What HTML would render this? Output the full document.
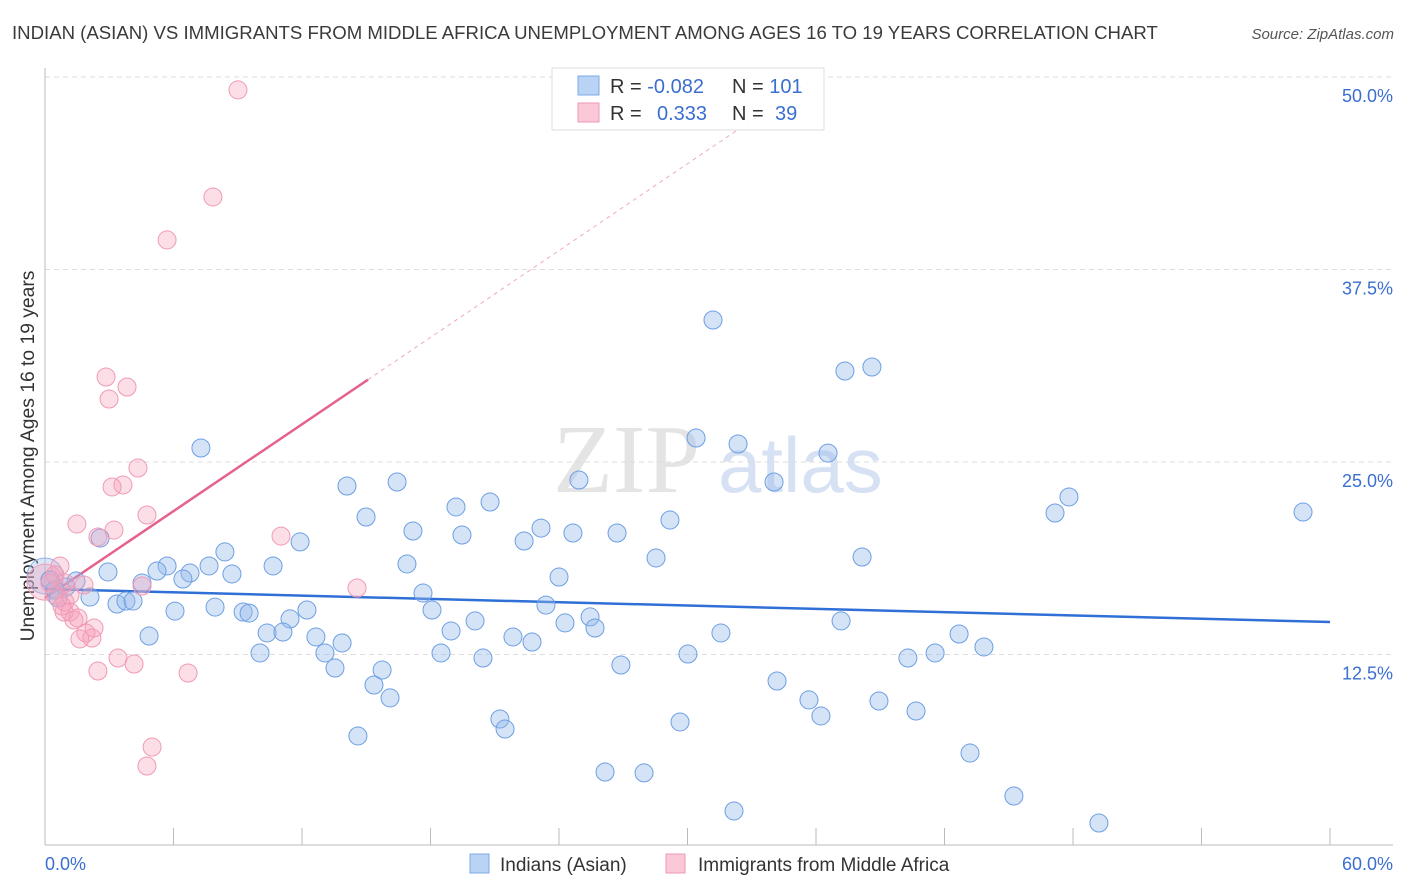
<!DOCTYPE html>
<html><head><meta charset="utf-8"><style>
body{margin:0;background:#fff;font-family:"Liberation Sans",sans-serif;}
svg{display:block}
</style></head><body>
<svg id="chart" width="1406" height="892">
<text x="12" y="39" font-size="18.6" fill="#3a3a3a">INDIAN (ASIAN) VS IMMIGRANTS FROM MIDDLE AFRICA UNEMPLOYMENT AMONG AGES 16 TO 19 YEARS CORRELATION CHART</text>
<text x="1394" y="39" font-size="15" fill="#555" font-style="italic" text-anchor="end">Source: ZipAtlas.com</text>
<text x="34" y="456" font-size="19.3" fill="#333" text-anchor="middle" transform="rotate(-90 34 456)">Unemployment Among Ages 16 to 19 years</text>
<g><text x="553" y="492" font-size="98" font-family="Liberation Serif,serif" fill="#e4e4e4">ZIP</text><text x="718" y="492" font-size="78" fill="#d6e2f4">atlas</text></g>
<g id="grid"></g><g id="ticks"></g><g id="trend"></g><g id="pts"></g>
<g>
<rect x="552" y="68" width="272" height="62" fill="#fff" fill-opacity="0.9" stroke="#ddd"/>
<rect x="578" y="76" width="21" height="19" fill="#b9d3f5" stroke="#7ea8e6"/>
<rect x="578" y="103" width="21" height="19" fill="#fac8d6" stroke="#ee9ab3"/>
<text x="610" y="93" font-size="20" fill="#333">R = <tspan fill="#3a6fd0">-0.082</tspan></text>
<text x="732" y="93" font-size="20" fill="#333">N = <tspan fill="#3a6fd0">101</tspan></text>
<text x="610" y="120" font-size="20" fill="#333">R = <tspan fill="#3a6fd0" x="657">0.333</tspan></text>
<text x="732" y="120" font-size="20" fill="#333">N = <tspan fill="#3a6fd0" x="775">39</tspan></text>
</g>
<g>
<rect x="470" y="854" width="19" height="19" fill="#b9d3f5" stroke="#7ea8e6"/>
<text x="500" y="871" font-size="19" fill="#333">Indians (Asian)</text>
<rect x="666" y="854" width="19" height="19" fill="#fac8d6" stroke="#ee9ab3"/>
<text x="698" y="871" font-size="19" fill="#333">Immigrants from Middle Africa</text>
</g>
<text x="45" y="870" font-size="18" fill="#3a6fd0">0.0%</text>
<text x="1393" y="870" font-size="18" fill="#3a6fd0" text-anchor="end">60.0%</text>
</svg>
<script>
const blueX=[31.19,37.35,38.61,7.28,30.40,32.36,36.56,34.04,24.93,14.10,16.44,20.78,19.19,14.99,17.18,19.47,22.37,23.16,24.65,26.71,29.18,47.16,47.81,58.74,2.57,11.91,38.15,28.53,8.40,16.90,10.65,7.66,24.00,8.73,6.77,5.70,5.23,6.44,4.53,2.94,1.45,0.98,0.47,2.10,3.36,3.78,4.11,17.65,18.07,23.39,25.45,25.68,24.28,20.08,18.96,12.23,11.44,7.94,9.25,9.53,6.07,10.37,11.11,12.65,13.87,13.07,10.04,4.86,13.54,15.74,15.36,16.11,18.49,20.45,21.85,22.74,26.89,30.02,31.56,37.17,42.68,43.84,41.56,40.29,34.18,35.67,36.23,38.94,40.67,21.24,21.48,29.65,14.61,43.19,26.15,27.97,32.17,45.24,49.21,0.61,0.23];
const blueY=[34.22,30.91,31.17,25.91,26.56,26.17,25.58,23.70,23.83,23.44,23.70,22.40,22.08,21.43,20.52,20.26,19.87,20.71,20.39,20.39,21.23,21.69,22.73,21.75,20.06,19.81,18.83,18.77,19.16,18.38,18.25,18.25,17.53,17.73,17.79,18.25,17.92,17.40,17.14,17.86,17.27,16.88,16.69,16.23,15.78,15.97,15.97,16.49,15.39,15.71,14.94,14.22,14.55,14.68,14.03,15.39,14.81,15.58,15.26,15.19,15.32,13.90,13.96,13.64,13.25,12.60,12.60,13.70,11.62,11.49,10.52,9.68,12.60,12.27,13.64,13.31,11.82,12.53,13.90,14.68,13.83,12.99,12.60,12.27,10.78,9.55,8.51,9.48,8.83,8.31,7.66,8.12,7.21,6.10,4.87,4.81,2.34,3.31,1.56,16.17,17.34];
const pinkX=[9.01,7.84,5.70,2.85,3.83,2.99,4.34,3.64,3.13,4.76,1.49,3.22,11.02,2.47,14.57,4.53,0.70,0.47,0.23,0.93,1.82,0.93,0.89,1.17,1.35,1.54,2.29,1.91,2.19,1.63,3.41,4.16,2.47,6.68,5.00,4.76,0.47,1.17,0.79];
const pinkY=[49.16,42.21,39.42,30.52,29.87,29.09,24.61,23.51,23.38,21.56,20.97,20.58,20.19,20.13,16.82,16.95,18.25,17.66,17.14,17.14,17.01,15.91,15.26,15.26,14.74,14.87,14.22,13.90,13.57,13.51,12.27,11.88,11.43,11.30,6.49,5.26,16.36,16.36,15.65];
const bigX=[0,0];const bigY=[17.6,17.2];
const gridVals=[12.5,25,37.5,50];
const gridLabels=["12.5%","25.0%","37.5%","50.0%"];
const xTicks=[0,6,12,18,24,30,36,42,48,54,60];
const blueTrend=[16.75,14.61];
const pinkTrend=[16.17,0.94];
const X=v=>45+v*21.417, Y=v=>847-v*15.4;
const NS="http://www.w3.org/2000/svg";
function mk(p,t,a){const e=document.createElementNS(NS,t);for(const k in a)e.setAttribute(k,a[k]);p.appendChild(e);return e;}
const grid=document.getElementById('grid');
gridVals.forEach((v,i)=>{
 const l=mk(grid,'line',{x1:45,x2:1393,y1:Y(v),y2:Y(v),stroke:'#dcdcdc','stroke-dasharray':'5,4'});
 
 
 const t=mk(grid,'text',{x:1393,y:Y(v)+25,'font-size':18,fill:'#3a6fd0','text-anchor':'end'});
 t.textContent=gridLabels[i];
 
 
});
const tk=document.getElementById('ticks');
const ya=mk(tk,'line',{x1:45,x2:45,y1:68,y2:845,stroke:'#bbb'});


const xa=mk(tk,'line',{x1:45,x2:1393,y1:845,y2:845,stroke:'#bbb'});


xTicks.forEach(v=>{const l=mk(tk,'line',{x1:X(v),x2:X(v),y1:828,y2:845,stroke:'#bbb'});
 
 });
const tr=document.getElementById('trend');
const bl=mk(tr,'line',{x1:X(0),x2:X(60),y1:Y(blueTrend[0]),y2:Y(blueTrend[1]),stroke:'#2f6fd6','stroke-width':2.5});


const pxEnd=15.08, pDash=35.9;
const pl=mk(tr,'line',{x1:X(0),x2:X(pxEnd),y1:Y(pinkTrend[0]),y2:Y(pinkTrend[0]+pinkTrend[1]*pxEnd),stroke:'#e5628c','stroke-width':2.5});


const pd=mk(tr,'line',{x1:X(pxEnd),x2:X(pDash),y1:Y(pinkTrend[0]+pinkTrend[1]*pxEnd),y2:Y(pinkTrend[0]+pinkTrend[1]*pDash),stroke:'#eeaac0','stroke-width':1,'stroke-dasharray':'4,4'});


const pts=document.getElementById('pts');
bigX.forEach((v,i)=>{const c=mk(pts,'circle',{cx:X(v),cy:Y(bigY[i]),r:18,fill:i?'rgba(245,160,185,0.35)':'rgba(150,185,235,0.35)',stroke:i?'#f0a0b8':'#8fb4ea','stroke-width':1});
 
 });
blueX.forEach((v,i)=>{const c=mk(pts,'circle',{cx:X(v),cy:Y(blueY[i]),r:9,fill:'rgba(150,185,235,0.4)',stroke:'#6d9fe3','stroke-width':1});
 
 });
pinkX.forEach((v,i)=>{const c=mk(pts,'circle',{cx:X(v),cy:Y(pinkY[i]),r:9,fill:'rgba(245,160,185,0.35)',stroke:'#f09ab5','stroke-width':1});
 
 });
</script>
</body></html>
